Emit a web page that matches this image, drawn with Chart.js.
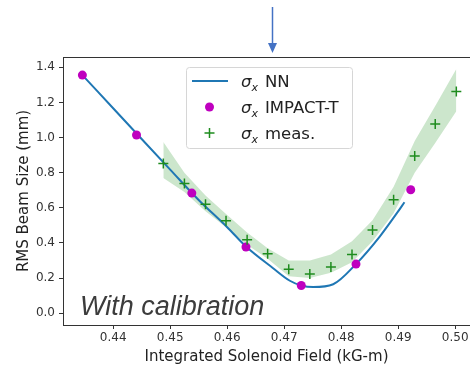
<!DOCTYPE html>
<html>
<head>
<meta charset="utf-8">
<script src="https://cdn.jsdelivr.net/npm/chart.js@4.4.1/dist/chart.umd.min.js"></script>
<style>
html, body { margin: 0; padding: 0; background: #fff; }
#wrap { width: 470px; height: 366px; position: relative; }
</style>
</head>
<body>
<div id="wrap"><canvas id="chart"></canvas></div>
<script>
// --- Data ---
const nnField = [0.4346, 0.4400, 0.4450, 0.4500, 0.4550, 0.4600, 0.4633, 0.4680, 0.4710, 0.4730, 0.4751, 0.4786, 0.4826, 0.4868, 0.4898, 0.4911];
const nnSize  = [1.356, 1.167, 0.992, 0.818, 0.645, 0.490, 0.380, 0.258, 0.185, 0.158, 0.149, 0.165, 0.280, 0.438, 0.571, 0.632];

const impactField = [0.4346, 0.4441, 0.4538, 0.4633, 0.4730, 0.4826, 0.4922];
const impactSize  = [1.356, 1.015, 0.684, 0.377, 0.158, 0.280, 0.703];

const measField = [0.4488, 0.4525, 0.4562, 0.4598, 0.4635, 0.4671, 0.4708, 0.4745, 0.4782, 0.4819, 0.4855, 0.4892, 0.4929, 0.4965, 0.5002];
const measSize  = [0.853, 0.739, 0.621, 0.526, 0.419, 0.339, 0.251, 0.223, 0.263, 0.335, 0.474, 0.646, 0.895, 1.078, 1.263];
const measUpper = [0.975, 0.800, 0.670, 0.565, 0.460, 0.370, 0.300, 0.300, 0.335, 0.410, 0.530, 0.720, 0.980, 1.180, 1.390];
const measLower = [0.770, 0.690, 0.580, 0.490, 0.390, 0.310, 0.210, 0.200, 0.230, 0.290, 0.410, 0.570, 0.800, 0.970, 1.150];

const arrowField = 0.4678;
const noteText = 'With calibration';

function toPoints(xs, ys) {
	return xs.map((x, i) => ({ x: x, y: ys[i] }));
}

// --- Plugins for the extras ---
const extrasPlugin = {
	id: 'extras',
	beforeDatasetsDraw(chart) {
		const ctx = chart.ctx;
		const a = chart.chartArea;
		// top spine
		ctx.save();
		ctx.strokeStyle = '#333';
		ctx.lineWidth = 1;
		ctx.beginPath();
		ctx.moveTo(a.left, a.top + 0.5);
		ctx.lineTo(a.right, a.top + 0.5);
		ctx.stroke();
		// note text
		ctx.fillStyle = '#3c3c3c';
		ctx.font = 'italic 27px "Liberation Sans", Arial, sans-serif';
		ctx.textBaseline = 'alphabetic';
		ctx.fillText(noteText, a.left + 17, a.bottom - 10);
		// arrow
		const ax = Math.round(chart.scales.x.getPixelForValue(arrowField)) + 0.5;
		ctx.strokeStyle = '#4472c4';
		ctx.fillStyle = '#4472c4';
		ctx.lineWidth = 1.5;
		ctx.beginPath();
		ctx.moveTo(ax, 7);
		ctx.lineTo(ax, 44);
		ctx.stroke();
		ctx.beginPath();
		ctx.moveTo(ax - 4.5, 43);
		ctx.lineTo(ax + 4.5, 43);
		ctx.lineTo(ax, 53);
		ctx.closePath();
		ctx.fill();
		ctx.restore();
	},
	afterDatasetsDraw(chart) {
		// legend box inside the plot
		const ctx = chart.ctx;
		const items = chart.data.datasets.filter(d => d.inLegend);
		const bx = 186.5, by = 67.5, bw = 166, bh = 81;
		ctx.save();
		ctx.fillStyle = 'rgba(255,255,255,0.85)';
		ctx.strokeStyle = '#d6d6d6';
		ctx.lineWidth = 1;
		ctx.beginPath();
		ctx.roundRect(bx, by, bw, bh, 3);
		ctx.fill();
		ctx.stroke();
		items.forEach((d, i) => {
			const cy = 81 + i * 26;
			if (d.showLine) {
				ctx.strokeStyle = d.borderColor;
				ctx.lineWidth = d.borderWidth;
				ctx.beginPath();
				ctx.moveTo(192, cy);
				ctx.lineTo(228, cy);
				ctx.stroke();
			} else if (d.pointStyle === 'cross') {
				ctx.strokeStyle = d.borderColor;
				ctx.lineWidth = d.borderWidth;
				ctx.beginPath();
				ctx.moveTo(209.5 - d.pointRadius, cy);
				ctx.lineTo(209.5 + d.pointRadius, cy);
				ctx.moveTo(209.5, cy - d.pointRadius);
				ctx.lineTo(209.5, cy + d.pointRadius);
				ctx.stroke();
			} else {
				ctx.fillStyle = d.backgroundColor;
				ctx.beginPath();
				ctx.arc(209.5, cy, d.pointRadius, 0, Math.PI * 2);
				ctx.fill();
			}
			const base = cy + 5.5;
			ctx.fillStyle = '#222';
			ctx.font = 'italic 16.5px "DejaVu Sans", sans-serif';
			ctx.fillText(d.label.charAt(0), 241, base);
			const sw = ctx.measureText(d.label.charAt(0)).width;
			ctx.font = 'italic 11px "DejaVu Sans", sans-serif';
			ctx.fillText(d.label.charAt(1), 241 + sw, base + 4);
			ctx.font = '16.5px "DejaVu Sans", sans-serif';
			ctx.fillText(d.label.slice(3), 265, base);
		});
		ctx.restore();
	}
};

const tickFont = { family: '"DejaVu Sans", sans-serif', size: 12 };
const titleFont = { family: '"DejaVu Sans", sans-serif', size: 15 };

const ctx = document.getElementById('chart').getContext('2d');
new Chart(ctx, {
	type: 'scatter',
	data: {
		datasets: [
			{
				label: 'band upper',
				data: toPoints(measField, measUpper),
				showLine: true,
				pointRadius: 0,
				borderWidth: 0,
				borderColor: 'rgba(0,128,0,0)',
				backgroundColor: 'rgba(0,128,0,0.2)',
				fill: '+1',
				tension: 0,
				order: 4
			},
			{
				label: 'band lower',
				data: toPoints(measField, measLower),
				showLine: true,
				pointRadius: 0,
				borderWidth: 0,
				borderColor: 'rgba(0,128,0,0)',
				fill: false,
				tension: 0,
				order: 5
			},
			{
				label: 'σx NN',
				inLegend: true,
				data: toPoints(nnField, nnSize),
				showLine: true,
				pointRadius: 0,
				borderColor: '#1f77b4',
				borderWidth: 2,
				cubicInterpolationMode: 'monotone',
				fill: false,
				order: 3
			},
			{
				label: 'σx IMPACT-T',
				inLegend: true,
				data: toPoints(impactField, impactSize),
				pointStyle: 'circle',
				pointRadius: 4.5,
				backgroundColor: '#bf00bf',
				borderColor: '#bf00bf',
				borderWidth: 0,
				order: 2
			},
			{
				label: 'σx meas.',
				inLegend: true,
				data: toPoints(measField, measSize),
				pointStyle: 'cross',
				pointRadius: 5,
				borderColor: '#1e8c1e',
				backgroundColor: '#1e8c1e',
				borderWidth: 1.5,
				order: 1
			}
		]
	},
	options: {
		responsive: true,
		maintainAspectRatio: false,
		animation: false,
		layout: { autoPadding: false, padding: { top: 57, right: 0, left: 0, bottom: 0 } },
		plugins: {
			legend: { display: false },
			tooltip: { enabled: false }
		},
		scales: {
			x: {
				type: 'linear',
				min: 0.4312,
				max: 0.5026,
				afterFit(scale) {
					scale.height = 41;
					scale.paddingLeft = 0;
					scale.paddingRight = 0;
				},
				border: { color: '#333', width: 1 },
				grid: { drawOnChartArea: false, drawTicks: true, tickLength: 4, color: '#333' },
				ticks: {
					stepSize: 0.01,
					includeBounds: false,
					color: '#333',
					font: tickFont,
					padding: 2,
					maxRotation: 0,
					callback: v => v.toFixed(2)
				},
				title: {
					display: true,
					text: 'Integrated Solenoid Field (kG-m)',
					color: '#222',
					font: titleFont,
					padding: { top: 0, bottom: 0 }
				}
			},
			y: {
				type: 'linear',
				min: -0.067,
				max: 1.459,
				afterFit(scale) {
					scale.width = 63;
					scale.paddingTop = 0;
					scale.paddingBottom = 0;
				},
				border: { color: '#333', width: 1 },
				grid: { drawOnChartArea: false, drawTicks: true, tickLength: 4, color: '#333' },
				ticks: {
					stepSize: 0.2,
					includeBounds: false,
					color: '#333',
					font: tickFont,
					padding: 4,
					callback: v => v.toFixed(1)
				},
				title: {
					display: true,
					text: 'RMS Beam Size (mm)',
					color: '#222',
					font: titleFont,
					padding: { top: 15, bottom: 0 }
				}
			}
		}
	},
	plugins: [extrasPlugin]
});
</script>
</body>
</html>
